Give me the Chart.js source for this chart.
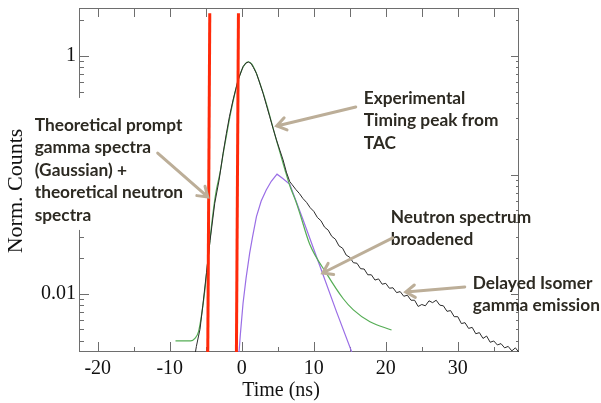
<!DOCTYPE html>
<html>
<head>
<meta charset="utf-8">
<script src="https://cdn.jsdelivr.net/npm/chart.js@4"></script>
<style>
  html, body { margin: 0; padding: 0; background: #fff; }
  #chart { display: block; }
</style>
</head>
<body>
<canvas id="chart" width="601" height="403"></canvas>
<script>
// Values (time in ns, normalised counts)
const expTime = [-6.6, -6.3, -6.0, -5.8, -5.4, -4.9, -4.4, -3.75, -3.15, -2.6, -2.13, -1.7, -1.21, -0.51, 0.18, 0.6, 0.93, 1.3, 1.6, 2.04, 2.5, 2.96, 3.4, 3.89, 4.35, 4.82, 5.3, 5.74, 6.2, 6.67,
    7.0, 7.5, 8.0, 8.5, 9.0, 9.5, 10.0, 10.5, 11.0, 11.5, 12.0, 12.5, 13.0, 13.5, 14.0, 14.5, 15.0, 15.5, 16.0, 16.5, 17.0, 17.5, 18.0, 18.5, 19.0, 19.5,
    20.0, 20.5, 21.0, 21.5, 22.0, 22.5, 23.0, 23.5, 24.0, 24.5, 25.0, 25.5, 26.0, 26.5, 27.0, 27.5, 28.0, 28.5, 29.0, 29.5,
    30.0, 30.5, 31.0, 31.5, 32.0, 32.5, 33.0, 33.5, 34.0, 34.5, 35.0, 35.5, 36.0, 36.5, 37.0, 37.5, 38.0, 38.5];
const expCounts = [0.0028, 0.0036, 0.0044, 0.0050, 0.0080, 0.015, 0.028, 0.0575, 0.090, 0.150, 0.223, 0.31, 0.424, 0.625, 0.81, 0.87, 0.885, 0.86, 0.80, 0.711, 0.59, 0.483, 0.39, 0.307, 0.245, 0.196, 0.160, 0.133, 0.105, 0.0873,
    0.0824, 0.0752, 0.0695, 0.0630, 0.0585, 0.0528, 0.0492, 0.0437, 0.0410, 0.0362, 0.0342, 0.0303, 0.0287, 0.0252, 0.0241, 0.0211, 0.0202, 0.0182, 0.0180, 0.0162, 0.0161, 0.0144, 0.0144, 0.0130, 0.0133, 0.0120,
    0.0122, 0.0111, 0.0112, 0.0102, 0.0104, 0.0095, 0.0097, 0.0088, 0.0088, 0.0078, 0.0081, 0.0079, 0.0087, 0.0084, 0.0088, 0.0080, 0.0079, 0.0071, 0.0072, 0.0064,
    0.0064, 0.0056, 0.0057, 0.0051, 0.0052, 0.0046, 0.0047, 0.0042, 0.0044, 0.0039, 0.0040, 0.0037, 0.0038, 0.0035, 0.0036, 0.0033, 0.0035, 0.0032];

const theoTime = [-9.2, -7.1, -6.5, -6.0, -5.6, -5.1, -4.6, -4.1, -3.6, -3.0, -2.5, -2.0, -1.5, -1.0, -0.5, 0.0, 0.5, 0.93, 1.4, 2.0, 2.5, 3.0, 3.5, 4.0, 4.5, 5.0, 5.5, 6.0, 6.7, 7.5, 8.06, 9.44, 11.76, 14.07, 15.5, 17.8, 20.8];
const theoCounts = [0.0040, 0.0040, 0.0042, 0.0048, 0.0065, 0.0110, 0.022, 0.042, 0.070, 0.105, 0.16, 0.235, 0.34, 0.47, 0.62, 0.76, 0.86, 0.89, 0.85, 0.72, 0.59, 0.48, 0.38, 0.295, 0.228, 0.178, 0.140, 0.110, 0.080, 0.060, 0.0474, 0.026, 0.0148, 0.0091, 0.0073, 0.0058, 0.00495];

const neutronTime = [-0.45, -0.2, 0.18, 0.6, 1.1, 1.5, 2.04, 2.7, 3.4, 4.1, 4.9, 5.7, 6.67, 8.5, 10.8, 13.1, 15.3, 15.6];
const neutronCounts = [0.0028, 0.0045, 0.0083, 0.0135, 0.0219, 0.030, 0.0444, 0.060, 0.0743, 0.088, 0.101, 0.093, 0.083, 0.042, 0.0174, 0.0072, 0.0032, 0.0028];

// the two prompt-window markers: [top, bottom] time
const markerA = [-4.44, -4.72];
const markerB = [-0.46, -0.74];
const markerTop = 2.28;

const xRange = [-22.6, 38.5];
const yRange = [0.00323, 2.52];
const xTickLabels = [-20, -10, 0, 10, 20, 30];
const yTickLabels = [0.01, 1];

// annotation texts with arrow ends in data coordinates
const notes = [
    { lines: ['Theoretical prompt', 'gamma spectra', '(Gaussian) +', 'theoretical neutron', 'spectra'],
      at: [-28.75, 0.262], from: [-11.67, 0.152], to: [-4.72, 0.065], mask: true },
    { lines: ['Experimental', 'Timing peak from', 'TAC'],
      at: [16.94, 0.441], from: [15.83, 0.371], to: [4.86, 0.257] },
    { lines: ['Neutron spectrum', 'broadened'],
      at: [20.69, 0.0441], from: [20.97, 0.0294], to: [11.25, 0.0149] },
    { lines: ['Delayed Isomer', 'gamma emission'],
      at: [32.08, 0.0123], from: [30.97, 0.01138], to: [22.78, 0.01033] }
];

const zip = (xs, ys) => xs.map((v, i) => ({ x: v, y: ys[i] }));

const framePlugin = {
    id: 'frame',
    beforeDatasetsDraw(chart) {
        const { ctx, chartArea: a, scales: { x, y } } = chart;
        ctx.save();
        ctx.strokeStyle = '#6e6e6e';
        ctx.lineWidth = 1;
        ctx.strokeRect(a.left + 0.5, a.top + 0.5, a.right - a.left - 1, a.bottom - a.top - 1);
        ctx.beginPath();
        for (let v = -20; v <= 35; v += 5) {
            const px = Math.round(x.getPixelForValue(v)) + 0.5;
            const len = v % 10 === 0 ? 10 : 5;
            ctx.moveTo(px, a.bottom);
            ctx.lineTo(px, a.bottom - len);
            ctx.moveTo(px, a.top);
            ctx.lineTo(px, a.top + 9);
        }
        for (let e = -3; e <= 0; e++) {
            for (let m = 1; m <= 9; m++) {
                const v = m * Math.pow(10, e);
                if (v < y.min || v > y.max) continue;
                const py = Math.round(y.getPixelForValue(v)) + 0.5;
                const len = m === 1 ? 10 : 5;
                ctx.moveTo(a.left, py);
                ctx.lineTo(a.left + len, py);
                ctx.moveTo(a.right, py);
                ctx.lineTo(a.right - len + 2, py);
            }
        }
        ctx.stroke();
        ctx.restore();
    },
    afterDraw(chart) {
        const { ctx, scales: { x, y } } = chart;
        ctx.save();

        // axis titles
        ctx.fillStyle = '#111';
        ctx.font = '20px "Liberation Serif"';
        ctx.textAlign = 'center';
        ctx.textBaseline = 'alphabetic';
        ctx.fillText('Time (ns)', 281, 396);
        ctx.translate(22, 191);
        ctx.rotate(-Math.PI / 2);
        ctx.font = '22px "Liberation Serif"';
        ctx.fillText('Norm. Counts', 0, 0);
        ctx.setTransform(1, 0, 0, 1, 0, 0);

        ctx.font = 'bold 17.3px Lato';
        ctx.textAlign = 'left';
        ctx.textBaseline = 'middle';
        const step = 22.5;
        notes.forEach(n => {
            const tx = x.getPixelForValue(n.at[0]);
            const ty = y.getPixelForValue(n.at[1]);
            if (n.mask) {
                const w = Math.max(...n.lines.map(l => ctx.measureText(l).width));
                ctx.fillStyle = '#fff';
                ctx.fillRect(tx - 6, ty - 27, w + 10, step * (n.lines.length - 1) + 42);
            }
            ctx.fillStyle = '#2d2a22';
            n.lines.forEach((l, i) => ctx.fillText(l, tx, ty + i * step));

            const x0 = x.getPixelForValue(n.from[0]), y0 = y.getPixelForValue(n.from[1]);
            const x1 = x.getPixelForValue(n.to[0]), y1 = y.getPixelForValue(n.to[1]);
            const ang = Math.atan2(y1 - y0, x1 - x0);
            ctx.strokeStyle = '#bcae98';
            ctx.lineWidth = 3;
            ctx.lineCap = 'round';
            ctx.beginPath();
            ctx.moveTo(x0, y0);
            ctx.lineTo(x1, y1);
            ctx.moveTo(x1 - 11 * Math.cos(ang - 0.6), y1 - 11 * Math.sin(ang - 0.6));
            ctx.lineTo(x1, y1);
            ctx.lineTo(x1 - 11 * Math.cos(ang + 0.6), y1 - 11 * Math.sin(ang + 0.6));
            ctx.stroke();
        });
        ctx.restore();
    }
};

new Chart(document.getElementById('chart'), {
    type: 'line',
    data: {
        datasets: [
            {
                data: zip(markerA, [markerTop, yRange[0]]),
                borderColor: '#ff2a0a', borderWidth: 3, order: 0
            },
            {
                data: zip(markerB, [markerTop, yRange[0]]),
                borderColor: '#ff2a0a', borderWidth: 3, order: 0
            },
            {
                data: zip(expTime, expCounts),
                borderColor: '#2b2b2b', borderWidth: 1, order: 1
            },
            {
                data: zip(theoTime, theoCounts),
                borderColor: '#55ad55', borderWidth: 1.2, cubicInterpolationMode: 'monotone', order: 2
            },
            {
                data: zip(neutronTime, neutronCounts),
                borderColor: '#9a6ee6', borderWidth: 1.2, order: 3
            }
        ]
    },
    options: {
        responsive: false,
        animation: false,
        events: [],
        elements: { point: { radius: 0 }, line: { tension: 0 } },
        layout: { padding: { top: 8, right: 82, left: 0, bottom: 0 } },
        plugins: { legend: { display: false }, tooltip: { enabled: false } },
        scales: {
            x: {
                type: 'linear',
                min: xRange[0],
                max: xRange[1],
                grid: { display: false, drawTicks: false },
                border: { display: false },
                afterFit: s => { s.height = 51; s.paddingLeft = 0; s.paddingRight = 0; },
                afterBuildTicks: s => { s.ticks = xTickLabels.map(v => ({ value: v })); },
                ticks: {
                    padding: 5,
                    color: '#111',
                    font: { family: 'Liberation Serif', size: 20 },
                    maxRotation: 0,
                    autoSkip: false
                }
            },
            y: {
                type: 'logarithmic',
                min: yRange[0],
                max: yRange[1],
                grid: { display: false, drawTicks: false },
                border: { display: false },
                afterFit: s => { s.width = 79; s.paddingTop = 0; s.paddingBottom = 0; },
                afterBuildTicks: s => { s.ticks = yTickLabels.map(v => ({ value: v })); },
                ticks: {
                    padding: 3,
                    color: '#111',
                    font: { family: 'Liberation Serif', size: 20 },
                    autoSkip: false,
                    callback: v => String(v)
                }
            }
        }
    },
    plugins: [framePlugin]
});
</script>
</body>
</html>
